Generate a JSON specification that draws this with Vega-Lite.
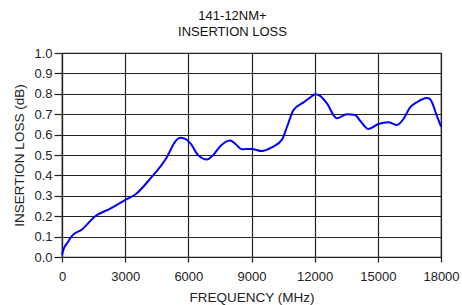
{
  "$schema": "https://vega.github.io/schema/vega-lite/v6.json",
  "width": 379,
  "height": 204,
  "autosize": "none",
  "padding": {"left": 62, "top": 53, "right": 21, "bottom": 48},
  "background": "white",
  "title": {
    "text": ["141-12NM+", "INSERTION LOSS"],
    "font": "Liberation Sans",
    "fontSize": 13,
    "fontWeight": "normal",
    "color": "#111",
    "lineHeight": 16,
    "anchor": "middle",
    "dx": -19,
    "offset": 8
  },
  "data": {
    "values": [
      {"f": 0, "loss": 0.01},
      {"f": 80, "loss": 0.04},
      {"f": 240, "loss": 0.067},
      {"f": 475, "loss": 0.104},
      {"f": 950, "loss": 0.135},
      {"f": 1580, "loss": 0.2},
      {"f": 2290, "loss": 0.237},
      {"f": 2970, "loss": 0.278},
      {"f": 3480, "loss": 0.306},
      {"f": 4190, "loss": 0.384},
      {"f": 4980, "loss": 0.489},
      {"f": 5380, "loss": 0.566},
      {"f": 5615, "loss": 0.584},
      {"f": 5850, "loss": 0.579},
      {"f": 6090, "loss": 0.558},
      {"f": 6485, "loss": 0.497},
      {"f": 6880, "loss": 0.478},
      {"f": 7200, "loss": 0.502},
      {"f": 7515, "loss": 0.543},
      {"f": 7990, "loss": 0.571},
      {"f": 8225, "loss": 0.555},
      {"f": 8545, "loss": 0.528},
      {"f": 9000, "loss": 0.53},
      {"f": 9490, "loss": 0.519},
      {"f": 9970, "loss": 0.538},
      {"f": 10440, "loss": 0.574},
      {"f": 10680, "loss": 0.636},
      {"f": 10990, "loss": 0.72},
      {"f": 11470, "loss": 0.758},
      {"f": 11785, "loss": 0.782},
      {"f": 12020, "loss": 0.798},
      {"f": 12260, "loss": 0.79},
      {"f": 12580, "loss": 0.753},
      {"f": 13050, "loss": 0.68},
      {"f": 13530, "loss": 0.7},
      {"f": 13920, "loss": 0.696},
      {"f": 14160, "loss": 0.668},
      {"f": 14550, "loss": 0.628},
      {"f": 15030, "loss": 0.652},
      {"f": 15500, "loss": 0.66},
      {"f": 15900, "loss": 0.647},
      {"f": 16220, "loss": 0.677},
      {"f": 16530, "loss": 0.733},
      {"f": 16850, "loss": 0.758},
      {"f": 17330, "loss": 0.779},
      {"f": 17480, "loss": 0.774},
      {"f": 17800, "loss": 0.693},
      {"f": 18000, "loss": 0.639}
    ]
  },
  "mark": {"type": "line", "color": "#0000ff", "strokeWidth": 2, "interpolate": "monotone"},
  "encoding": {
    "x": {
      "field": "f",
      "type": "quantitative",
      "scale": {"domain": [0, 18000], "nice": false},
      "axis": {
        "title": "FREQUENCY (MHz)",
        "values": [0, 3000, 6000, 9000, 12000, 15000, 18000],
        "format": "d",
        "tickSize": 5,
        "labelFlush": false,
        "labelPadding": 8,
        "titlePadding": 7
      }
    },
    "y": {
      "field": "loss",
      "type": "quantitative",
      "scale": {"domain": [0, 1], "nice": false},
      "axis": {
        "title": "INSERTION LOSS (dB)",
        "values": [0, 0.1, 0.2, 0.3, 0.4, 0.5, 0.6, 0.7, 0.8, 0.9, 1.0],
        "format": ".1f",
        "tickSize": 8,
        "labelFlush": false,
        "labelPadding": 2,
        "titlePadding": 7
      }
    }
  },
  "config": {
    "view": {"stroke": "#222", "strokeWidth": 1.2},
    "axis": {
      "labelFont": "Liberation Sans",
      "labelFontSize": 13,
      "labelColor": "#222",
      "titleFont": "Liberation Sans",
      "titleFontSize": 13.5,
      "titleFontWeight": "normal",
      "titleColor": "#222",
      "domainColor": "#222",
      "domainWidth": 1.2,
      "tickColor": "#222",
      "tickWidth": 1.2,
      "gridColor": "#222",
      "gridWidth": 1.2,
      "gridOpacity": 1
    }
  }
}
